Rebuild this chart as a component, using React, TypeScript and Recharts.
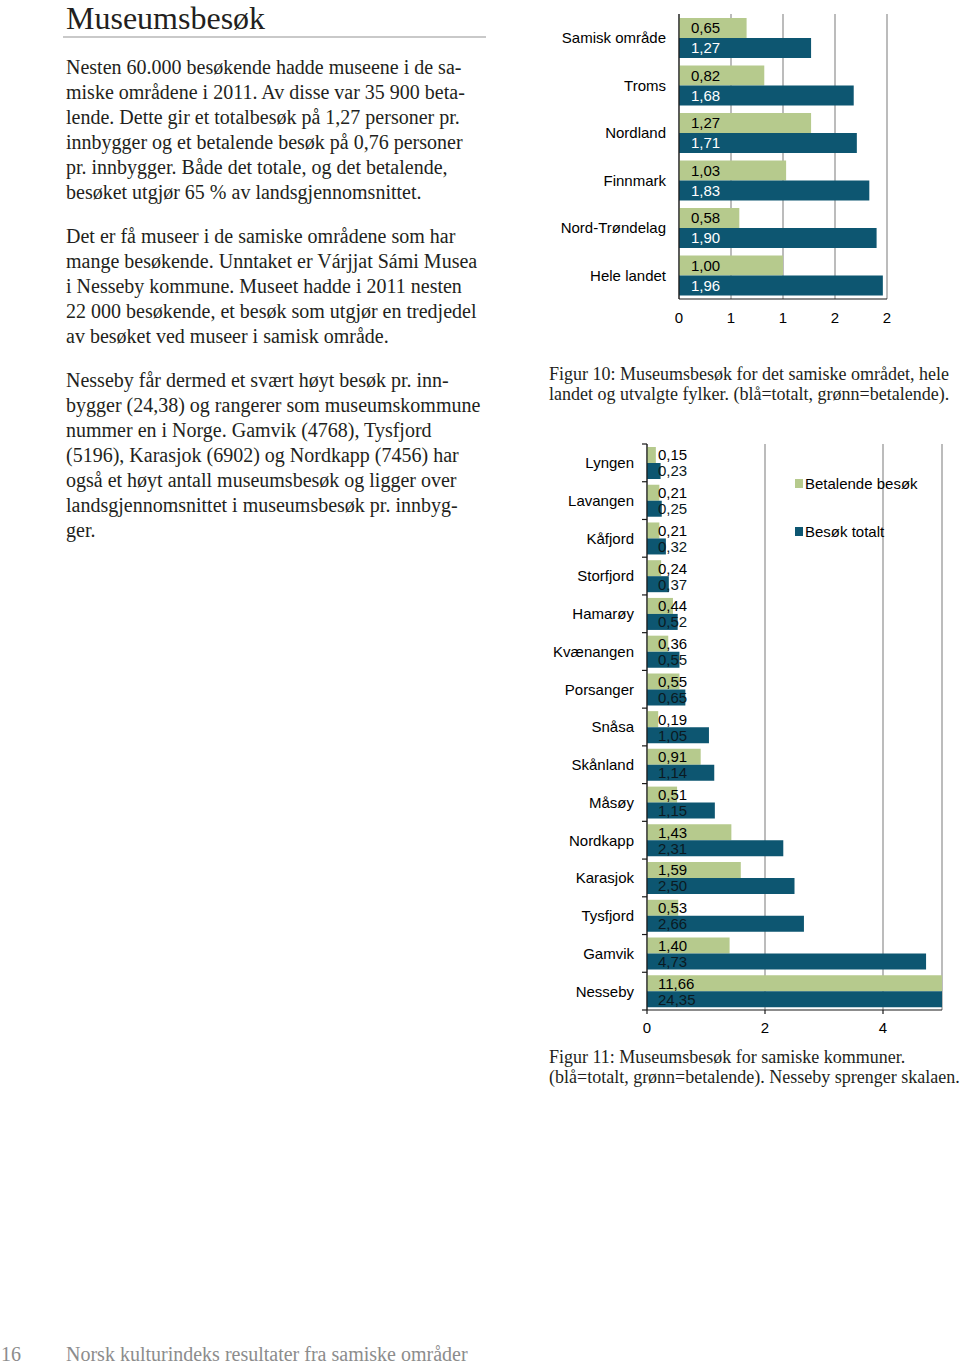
import React from 'react';
import { BarChart, Bar, XAxis, YAxis, CartesianGrid, LabelList } from 'recharts';

// ---------- Data ----------
const regionCategories = ['Samisk område', 'Troms', 'Nordland', 'Finnmark', 'Nord-Trøndelag', 'Hele landet'];
const regionPaying = [0.65, 0.82, 1.27, 1.03, 0.58, 1.0];
const regionTotal = [1.27, 1.68, 1.71, 1.83, 1.9, 1.96];
const regionTicks = [0, 0.5, 1, 1.5, 2];

const municipalityCategories = [
  'Lyngen', 'Lavangen', 'Kåfjord', 'Storfjord', 'Hamarøy', 'Kvænangen', 'Porsanger', 'Snåsa',
  'Skånland', 'Måsøy', 'Nordkapp', 'Karasjok', 'Tysfjord', 'Gamvik', 'Nesseby',
];
const municipalityPaying = [0.15, 0.21, 0.21, 0.24, 0.44, 0.36, 0.55, 0.19, 0.91, 0.51, 1.43, 1.59, 0.53, 1.4, 11.66];
const municipalityTotal = [0.23, 0.25, 0.32, 0.37, 0.52, 0.55, 0.65, 1.05, 1.14, 1.15, 2.31, 2.5, 2.66, 4.73, 24.35];
const municipalityTicks = [0, 2, 4];
const municipalityDomain = [0, 5];

const seriesNames = ['Betalende besøk', 'Besøk totalt'];

// ---------- Styles ----------
const GREEN = '#b6ca8d';
const BLUE = '#0d5671';
const GRID = '#8f8f8f';
const AXIS = '#1a1a1a';
const SANS = '"Liberation Sans", Arial, sans-serif';
const SERIF = '"Liberation Serif", "Times New Roman", serif';
const TEXT = '#231f20';

const regionData = regionCategories.map((name, i) => ({ name, paying: regionPaying[i], total: regionTotal[i] }));
const municipalityData = municipalityCategories.map((name, i) => ({
  name,
  paying: municipalityPaying[i],
  total: municipalityTotal[i],
}));

const fmt = (v: number) => Number(v).toFixed(2).replace('.', ',');

const makeLabel = (color: string, offset: number) => (p: any) => {
  const x = Number(p.x);
  const y = Number(p.y);
  const h = Number(p.height);
  return (
    <text x={x + offset} y={y + h / 2} dy="0.36em" fill={color} fontSize={15} fontFamily={SANS}>
      {fmt(p.value)}
    </text>
  );
};

const TICK_MARGIN = 13;

const RegionTick = (props: any) => {
  const { x, y, payload } = props;
  return (
    <text x={x} y={y} dy="0.36em" textAnchor="end" fill="#000" fontSize={15} fontFamily={SANS}>
      {payload.value}
    </text>
  );
};

// chart 2 geometry
const C2_W = 420;
const C2_H = 640;
const C2_MARGIN = { top: 14, right: 18, bottom: 30, left: 0 };
const C2_XAXIS_H = 30;
const C2_PLOT_H = C2_H - C2_MARGIN.top - C2_MARGIN.bottom - C2_XAXIS_H;

const MunicipalityTick = (props: any) => {
  const { x, y, payload, index } = props;
  const half = C2_PLOT_H / municipalityCategories.length / 2;
  const axisX = Number(x) + TICK_MARGIN;
  const yy = Number(y);
  return (
    <g>
      <text x={x} y={y} dy="0.36em" textAnchor="end" fill="#000" fontSize={15} fontFamily={SANS}>
        {payload.value}
      </text>
      <line x1={axisX - 5} x2={axisX} y1={yy - half} y2={yy - half} stroke={AXIS} strokeWidth={1.2} />
      {index === municipalityCategories.length - 1 && (
        <line x1={axisX - 5} x2={axisX} y1={yy + half} y2={yy + half} stroke={AXIS} strokeWidth={1.2} />
      )}
    </g>
  );
};

const abs = (left: number, top: number, extra: React.CSSProperties = {}): React.CSSProperties => ({
  position: 'absolute',
  left,
  top,
  ...extra,
});

const bodyStyle: React.CSSProperties = {
  fontFamily: SERIF,
  fontSize: 20,
  lineHeight: '25px',
  color: TEXT,
  whiteSpace: 'nowrap',
};

const captionStyle: React.CSSProperties = {
  fontFamily: SERIF,
  fontSize: 18,
  lineHeight: '20px',
  color: TEXT,
  whiteSpace: 'nowrap',
};

const footerStyle: React.CSSProperties = {
  fontFamily: SERIF,
  fontSize: 20,
  lineHeight: '18px',
  color: '#8c8c8c',
  whiteSpace: 'nowrap',
};

const lines = (arr: string[]) =>
  arr.map((l, i) => (
    <React.Fragment key={i}>
      {l}
      {i < arr.length - 1 && <br />}
    </React.Fragment>
  ));

export default function App() {
  return (
    <div style={{ position: 'absolute', left: 0, top: 0, width: 960, height: 1368, background: '#fff', overflow: 'hidden' }}>
      {/* Title */}
      <div style={abs(66, 6, { fontFamily: SERIF, fontSize: 32, lineHeight: '24px', color: TEXT, whiteSpace: 'nowrap' })}>
        Museumsbesøk
      </div>
      <div style={abs(63, 36, { width: 423, height: 2, background: '#c9c9c9' })} />

      <div style={abs(66, 55, bodyStyle)}>
        {lines([
          'Nesten 60.000 besøkende hadde museene i de sa-',
          'miske områdene i 2011. Av disse var 35 900 beta-',
          'lende. Dette gir et totalbesøk på 1,27 personer pr.',
          'innbygger og et betalende besøk på 0,76 personer',
          'pr. innbygger. Både det totale, og det betalende,',
          'besøket utgjør 65 % av landsgjennomsnittet.',
        ])}
      </div>
      <div style={abs(66, 224, bodyStyle)}>
        {lines([
          'Det er få museer i de samiske områdene som har',
          'mange besøkende. Unntaket er Várjjat Sámi Musea',
          'i Nesseby kommune. Museet hadde i 2011 nesten',
          '22 000 besøkende, et besøk som utgjør en tredjedel',
          'av besøket ved museer i samisk område.',
        ])}
      </div>
      <div style={abs(66, 368, bodyStyle)}>
        {lines([
          'Nesseby får dermed et svært høyt besøk pr. inn-',
          'bygger (24,38) og rangerer som museumskommune',
          'nummer en i Norge. Gamvik (4768), Tysfjord',
          '(5196), Karasjok (6902) og Nordkapp (7456) har',
          'også et høyt antall museumsbesøk og ligger over',
          'landsgjennomsnittet i museumsbesøk pr. innbyg-',
          'ger.',
        ])}
      </div>

      {/* Chart 1 */}
      <div style={abs(540, 0)}>
        <BarChart
          width={420}
          height={340}
          data={regionData}
          layout="vertical"
          margin={{ top: 14, right: 73, bottom: 11, left: 0 }}
          barGap={0}
          barSize={20}
        >
          <CartesianGrid horizontal={false} vertical={true} stroke={GRID} strokeWidth={1.2} />
          <XAxis
            type="number"
            domain={[0, 2]}
            ticks={regionTicks}
            tickFormatter={(v: number) => Math.round(v).toFixed(0)}
            height={30}
            tickLine={false}
            tickSize={0}
            tickMargin={13}
            axisLine={{ stroke: AXIS, strokeWidth: 1.2 }}
            tick={{ fill: '#000', fontSize: 15, fontFamily: SANS }}
          />
          <YAxis
            type="category"
            dataKey="name"
            width={139}
            tickLine={false}
            tickSize={0}
            tickMargin={TICK_MARGIN}
            axisLine={{ stroke: AXIS, strokeWidth: 1.2 }}
            tick={<RegionTick />}
            interval={0}
          />
          <Bar dataKey="paying" name={seriesNames[0]} fill={GREEN} isAnimationActive={false}>
            <LabelList dataKey="paying" content={makeLabel('#000', 12)} />
          </Bar>
          <Bar dataKey="total" name={seriesNames[1]} fill={BLUE} isAnimationActive={false}>
            <LabelList dataKey="total" content={makeLabel('#ffffff', 12)} />
          </Bar>
        </BarChart>
      </div>

      <div style={abs(549, 364, captionStyle)}>
        {lines([
          'Figur 10: Museumsbesøk for det samiske området, hele',
          'landet og utvalgte fylker. (blå=totalt, grønn=betalende).',
        ])}
      </div>

      {/* Chart 2 */}
      <div style={abs(540, 430)}>
        <BarChart
          width={C2_W}
          height={C2_H}
          data={municipalityData}
          layout="vertical"
          margin={C2_MARGIN}
          barGap={0}
          barSize={16}
        >
          <CartesianGrid horizontal={false} vertical={true} stroke={GRID} strokeWidth={1.2} />
          <XAxis
            type="number"
            domain={municipalityDomain}
            ticks={municipalityTicks}
            allowDataOverflow={true}
            height={C2_XAXIS_H}
            tickLine={{ stroke: AXIS, strokeWidth: 1.2 }}
            tickSize={4}
            tickMargin={8}
            axisLine={{ stroke: AXIS, strokeWidth: 1.2 }}
            tick={{ fill: '#000', fontSize: 15, fontFamily: SANS }}
          />
          <YAxis
            type="category"
            dataKey="name"
            width={107}
            tickLine={false}
            tickSize={0}
            tickMargin={TICK_MARGIN}
            axisLine={{ stroke: AXIS, strokeWidth: 1.2 }}
            tick={<MunicipalityTick />}
            interval={0}
          />
          <Bar dataKey="paying" name={seriesNames[0]} fill={GREEN} isAnimationActive={false}>
            <LabelList dataKey="paying" content={makeLabel('#000', 11)} />
          </Bar>
          <Bar dataKey="total" name={seriesNames[1]} fill={BLUE} isAnimationActive={false}>
            <LabelList dataKey="total" content={makeLabel('#0b1a22', 11)} />
          </Bar>
        </BarChart>
      </div>

      {/* Legend for chart 2 */}
      <div style={abs(795, 471, { fontFamily: SANS, fontSize: 15, color: '#000' })}>
        {[GREEN, BLUE].map((c, i) => (
          <div key={i} style={{ display: 'flex', alignItems: 'center', height: 24, marginBottom: i === 0 ? 24 : 0, whiteSpace: 'nowrap' }}>
            <span style={{ display: 'inline-block', width: 8, height: 9, background: c, marginRight: 2 }} />
            <span>{seriesNames[i]}</span>
          </div>
        ))}
      </div>

      <div style={abs(549, 1047, captionStyle)}>
        {lines([
          'Figur 11: Museumsbesøk for samiske kommuner.',
          '(blå=totalt, grønn=betalende). Nesseby sprenger skalaen.',
        ])}
      </div>

      {/* Footer */}
      <div style={abs(1, 1345, footerStyle)}>16</div>
      <div style={abs(66, 1345, footerStyle)}>Norsk kulturindeks resultater fra samiske områder</div>
    </div>
  );
}
